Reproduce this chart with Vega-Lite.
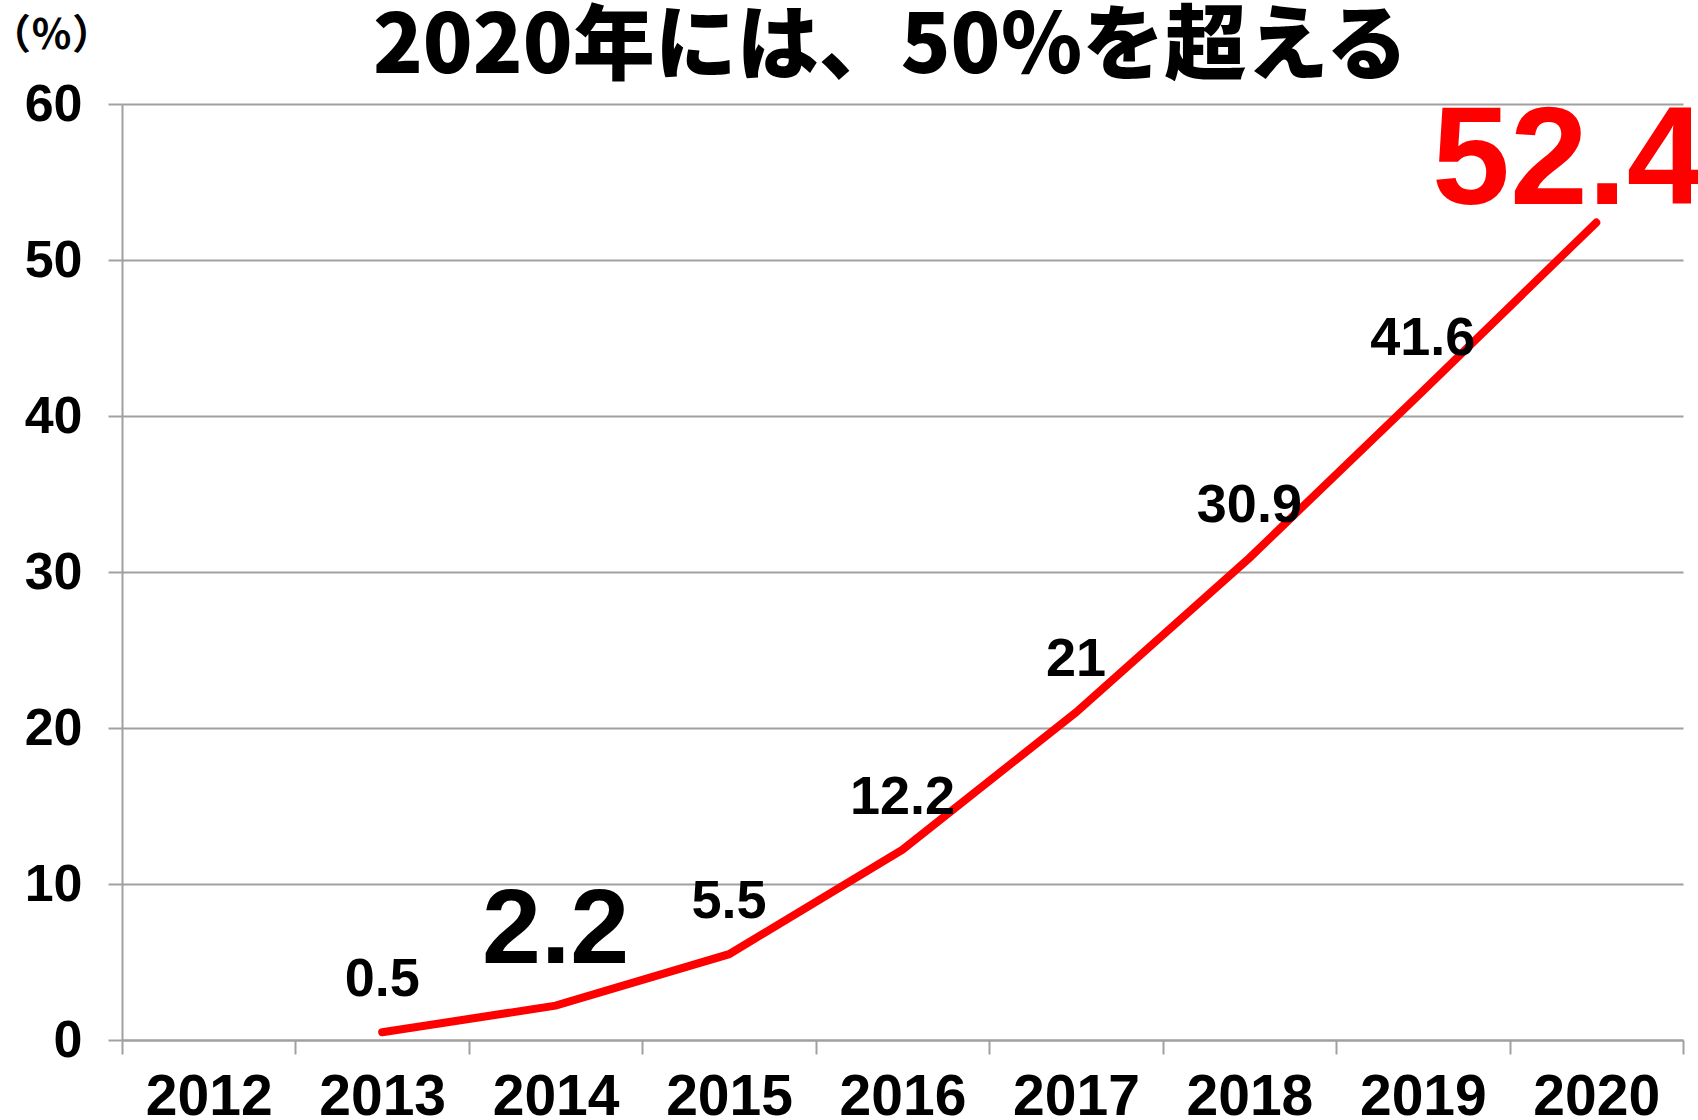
{
  "$schema": "https://vega.github.io/schema/vega-lite/v6.json",
  "width": 1561,
  "height": 936,
  "autosize": {"type": "none"},
  "padding": {"left": 122, "top": 104, "right": 15, "bottom": 80},
  "background": "white",
  "config": {"view": {"stroke": null}},
  "title": {
    "text": "2020年には、50％を超える",
    "font": "Noto Sans CJK JP",
    "fontSize": 82,
    "fontWeight": 900,
    "color": "black",
    "anchor": "middle",
    "frame": "group",
    "dx": -12,
    "baseline": "alphabetic",
    "offset": -140
  },
  "data": {
    "values": [
      {"year": "2013", "value": 0.5},
      {"year": "2014", "value": 2.2},
      {"year": "2015", "value": 5.5},
      {"year": "2016", "value": 12.2},
      {"year": "2017", "value": 21},
      {"year": "2018", "value": 30.9},
      {"year": "2019", "value": 41.6},
      {"year": "2020", "value": 52.4}
    ]
  },
  "encoding": {
    "x": {
      "field": "year",
      "type": "ordinal",
      "bandPosition": 0.5,
      "scale": {
        "type": "band",
        "domain": ["2012", "2013", "2014", "2015", "2016", "2017", "2018", "2019", "2020"],
        "paddingInner": 0,
        "paddingOuter": 0
      },
      "axis": {
        "title": null,
        "tickBand": "extent",
        "grid": false,
        "labelAngle": 0,
        "labelFont": "Liberation Sans",
        "labelFontSize": 57,
        "labelFontWeight": "bold",
        "labelColor": "black",
        "labelPadding": 15,
        "tickColor": "#A0A0A0",
        "tickSize": 14,
        "tickWidth": 2,
        "domainColor": "#A0A0A0",
        "domainWidth": 2
      }
    },
    "y": {
      "field": "value",
      "type": "quantitative",
      "scale": {"domain": [0, 60], "nice": false, "zero": true},
      "axis": {
        "title": "（％）",
        "titleAngle": 0,
        "titleX": -71,
        "titleY": -68,
        "titleAlign": "center",
        "titleBaseline": "middle",
        "titleFont": "Noto Sans CJK JP",
        "titleFontSize": 41,
        "titleFontWeight": "bold",
        "titleColor": "black",
        "values": [0, 10, 20, 30, 40, 50, 60],
        "labelFont": "Liberation Sans",
        "labelFontSize": 52,
        "labelFontWeight": "bold",
        "labelColor": "black",
        "labelPadding": 26,
        "tickSize": 14,
        "tickColor": "#A0A0A0",
        "tickWidth": 2,
        "domainColor": "#A0A0A0",
        "domainWidth": 2,
        "grid": true,
        "gridColor": "#A0A0A0",
        "gridWidth": 2
      }
    }
  },
  "layer": [
    {
      "mark": {"type": "line", "color": "#FF0000", "strokeWidth": 8, "strokeCap": "round", "strokeJoin": "miter"}
    },
    {
      "transform": [{"filter": "datum.year != '2014' && datum.year != '2020'"}],
      "mark": {"type": "text", "font": "Liberation Sans", "fontSize": 54, "fontWeight": "bold", "color": "black", "baseline": "middle", "align": "center", "dy": -52},
      "encoding": {"text": {"field": "value", "type": "quantitative"}}
    },
    {
      "transform": [{"filter": "datum.year == '2014'"}],
      "mark": {"type": "text", "font": "Liberation Sans", "fontSize": 106, "fontWeight": "bold", "color": "black", "baseline": "middle", "align": "center", "dy": -75},
      "encoding": {"text": {"field": "value", "type": "quantitative"}}
    },
    {
      "transform": [{"filter": "datum.year == '2020'"}],
      "mark": {"type": "text", "font": "Liberation Sans", "fontSize": 140, "fontWeight": "bold", "color": "#FF0000", "baseline": "middle", "align": "center", "dy": -61, "dx": -28},
      "encoding": {"text": {"field": "value", "type": "quantitative"}}
    }
  ]
}
